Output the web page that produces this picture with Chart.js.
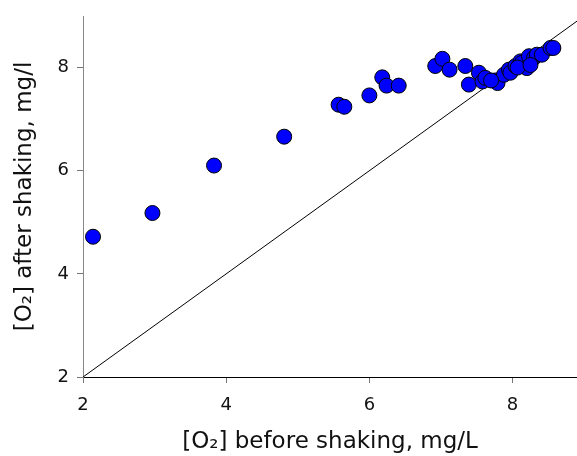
<!DOCTYPE html>
<html>
<head>
<meta charset="utf-8">
<script src="https://cdn.jsdelivr.net/npm/chart.js@4/dist/chart.umd.min.js"></script>
<style>
html,body{margin:0;padding:0;background:#fff;}
#wrap{width:577px;height:456px;}
</style>
</head>
<body>
<div id="wrap"><canvas id="c" width="577" height="456"></canvas></div>
<script>
const beforeShaking = [2.14, 2.97, 3.83, 4.81, 5.57, 5.65, 6.00, 6.18, 6.24, 6.41,
  6.92, 7.02, 7.12, 7.34, 7.39, 7.53, 7.58, 7.62, 7.76, 7.79, 7.88, 7.95, 7.97,
  8.04, 8.11, 8.13, 8.20, 8.23, 8.30, 8.34, 8.41, 8.53, 8.57, 8.07, 8.25, 7.70];
const afterShaking = [4.72, 5.18, 6.10, 6.66, 7.28, 7.24, 7.46, 7.81, 7.65, 7.65,
  8.03, 8.17, 7.96, 8.03, 7.67, 7.90, 7.73, 7.80, 7.75, 7.70, 7.86, 7.96, 7.90,
  8.03, 8.12, 8.09, 7.99, 8.22, 8.19, 8.25, 8.25, 8.38, 8.38, 8.00, 8.05, 7.75];
const identityLine = [2, 9];
const xTicks = [2, 4, 6, 8];
const yTicks = [2, 4, 6, 8];

const points = beforeShaking.map((v, i) => ({x: v, y: afterShaking[i]}));
const FONT = "'DejaVu Sans', Verdana, sans-serif";

new Chart(document.getElementById('c'), {
  type: 'scatter',
  data: {
    datasets: [
      {
        data: points,
        backgroundColor: '#0000ff',
        borderColor: '#000000',
        borderWidth: 1,
        pointRadius: 7.5,
        pointHoverRadius: 7.5,
        order: 0
      },
      {
        type: 'line',
        data: identityLine.map(v => ({x: v, y: v})),
        borderColor: '#000000',
        borderWidth: 1,
        pointRadius: 0,
        fill: false,
        order: 1
      }
    ]
  },
  options: {
    responsive: false,
    animation: false,
    events: [],
    layout: {autoPadding: false, padding: {top: 16, right: 0, left: 0, bottom: 0}},
    plugins: {legend: {display: false}, tooltip: {enabled: false}},
    scales: {
      x: {
        type: 'linear',
        min: 2, max: 8.9,
        afterBuildTicks: s => { s.ticks = xTicks.map(v => ({value: v})); },
        afterFit: s => { s.height = 79; s.paddingRight = 0; s.paddingLeft = 0; },
        grid: {drawOnChartArea: false, tickLength: 6, color: '#777'},
        border: {color: '#000', width: 1},
        ticks: {color: '#111', font: {family: FONT, size: 18}, padding: 12, maxRotation: 0},
        title: {display: true, text: '[O₂] before shaking, mg/L', color: '#111',
                font: {family: FONT, size: 23}, padding: {top: 0, bottom: 0}}
      },
      y: {
        type: 'linear',
        min: 2, max: 9,
        afterBuildTicks: s => { s.ticks = yTicks.map(v => ({value: v})); },
        afterFit: s => { s.width = 83; s.paddingTop = 0; s.paddingBottom = 0; },
        grid: {drawOnChartArea: false, tickLength: 6, color: '#777'},
        border: {color: '#888', width: 1},
        ticks: {color: '#111', font: {family: FONT, size: 18}, padding: 8},
        title: {display: true, text: '[O₂] after shaking, mg/l', color: '#111',
                font: {family: FONT, size: 23}, padding: {top: 11, bottom: 0}}
      }
    }
  }
});
</script>
</body>
</html>
